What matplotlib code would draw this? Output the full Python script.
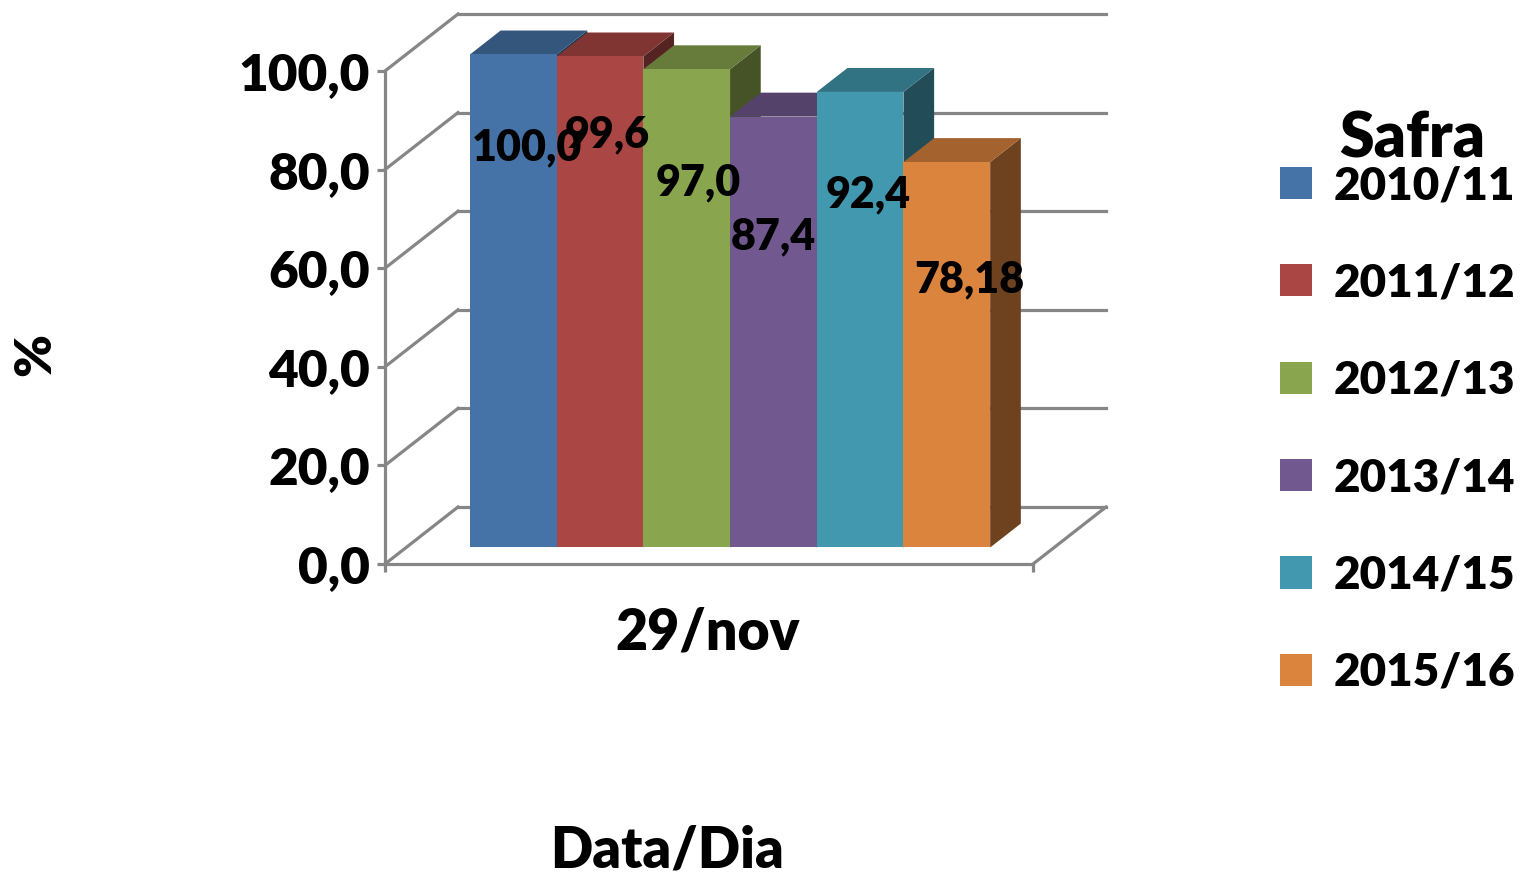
import matplotlib.pyplot as plt
from matplotlib.patches import Polygon
from matplotlib import colors as mcolors

# dados
safras = ['2010/11', '2011/12', '2012/13', '2013/14', '2014/15', '2015/16']
valores = [100.0, 99.6, 97.0, 87.4, 92.4, 78.18]
rotulos = ['100,0', '99,6', '97,0', '87,4', '92,4', '78,18']
yticks = [0, 20, 40, 60, 80, 100]
ytick_labels = ['0,0', '20,0', '40,0', '60,0', '80,0', '100,0']
categoria = '29/nov'

cores = ['#4572A7', '#AA4643', '#89A54E', '#71588F', '#4198AF', '#DB843D']
# ajuste dos rotulos (dx em px, dy em unidades de valor)
ajuste = [(14, -15.5), (7, -12.5), (12, -19.5), (0, -21), (8, -17.5), (22, -20.5)]

peso = 'heavy'
plt.rcParams['font.family'] = ['Lato', 'DejaVu Sans']
plt.rcParams['font.weight'] = peso

def escurecer(c, k):
    r, g, b = mcolors.to_rgb(c)
    return (r * k, g * k, b * k)

W, H = 1521, 876
PY = 4.93            # px por unidade
Y0 = 564             # pixel do zero no plano da frente
DX = 73              # profundidade em x (px)
DY = 57 / PY         # profundidade em y (unidades)
XF0, XF1 = 385, 1033 # eixo da frente
cinza = '#868686'
lw = 2.3

fig = plt.figure(figsize=(W / 100, H / 100), dpi=100)
ax = fig.add_axes([0, 0, 1, 1])
ax.set_xlim(0, W)
ax.set_ylim((Y0 - H) / PY, Y0 / PY)

# paredes / grade
for t in yticks:
    ax.plot([XF0, XF0 + DX], [t, t + DY], color=cinza, lw=lw, zorder=1)
    ax.plot([XF0 + DX, XF1 + DX], [t + DY, t + DY], color=cinza, lw=lw, zorder=1)
ax.plot([XF1, XF1 + DX], [0, DY], color=cinza, lw=lw, zorder=1)

# eixos da frente com spines
for s in ['top', 'right']:
    ax.spines[s].set_visible(False)
ax.spines['left'].set_position(('data', XF0))
ax.spines['left'].set_bounds(0, 100)
ax.spines['bottom'].set_position(('data', 0))
ax.spines['bottom'].set_bounds(XF0, XF1)
for s in ['left', 'bottom']:
    ax.spines[s].set_color(cinza)
    ax.spines[s].set_linewidth(lw)
ax.set_yticks(yticks, ytick_labels)
ax.set_xticks([XF0, XF1], ['', ''])
ax.tick_params(axis='both', direction='out', length=6, width=lw, color=cinza)
ax.tick_params(axis='y', labelsize=37, pad=5)
for t in ax.get_yticklabels():
    t.set_fontweight(peso)

# barras 3d
d0, d1 = 0.29, 0.71
larg = 86.7
x_ini = XF0 + d0 * DX + 63.8
base = d0 * DY
ddx = (d1 - d0) * DX
ddy = (d1 - d0) * DY
for i, v in enumerate(valores):
    xl = x_ini + i * larg
    xr = xl + larg
    z = 3 + i
    lado = Polygon([(xr, base), (xr, base + v), (xr + ddx, base + v + ddy), (xr + ddx, base + ddy)],
                   closed=True, facecolor=escurecer(cores[i], 0.5), edgecolor='none', zorder=z)
    topo = Polygon([(xl, base + v), (xr, base + v), (xr + ddx, base + v + ddy), (xl + ddx, base + v + ddy)],
                   closed=True, facecolor=escurecer(cores[i], 0.75), edgecolor='none', zorder=z)
    ax.add_patch(lado)
    ax.add_patch(topo)
    ax.bar(xl, v, width=larg, bottom=base, align='edge', color=cores[i],
           label=safras[i], zorder=z + 0.1)
    ax.text(xl + larg / 2 + ajuste[i][0], v + ajuste[i][1], rotulos[i],
            ha='center', va='center', fontsize=31, fontweight=peso, zorder=20)

# textos
fig.text(708 / W, 1 - 632 / H, categoria, ha='center', va='center', fontsize=40, fontweight=peso)
fig.text(667 / W, 1 - 850 / H, 'Data/Dia', ha='center', va='center', fontsize=40, fontweight=peso)
fig.text(35 / W, 1 - 355 / H, '%', ha='center', va='center', rotation=90, fontsize=37, fontweight=peso)
fig.text(1412 / W, 1 - 158 / H, 'Safra', ha='center', va='baseline', fontsize=45, fontweight=peso)

leg = ax.legend(loc='upper left', bbox_to_anchor=(1280 / W, 1 - 165 / H), bbox_transform=fig.transFigure,
                frameon=False, fontsize=33, handlelength=0.7, handleheight=0.7,
                handletextpad=0.48, labelspacing=1.23, borderpad=0, borderaxespad=0)
for t in leg.get_texts():
    t.set_fontweight(peso)

fig.savefig('out.png', dpi=100)
